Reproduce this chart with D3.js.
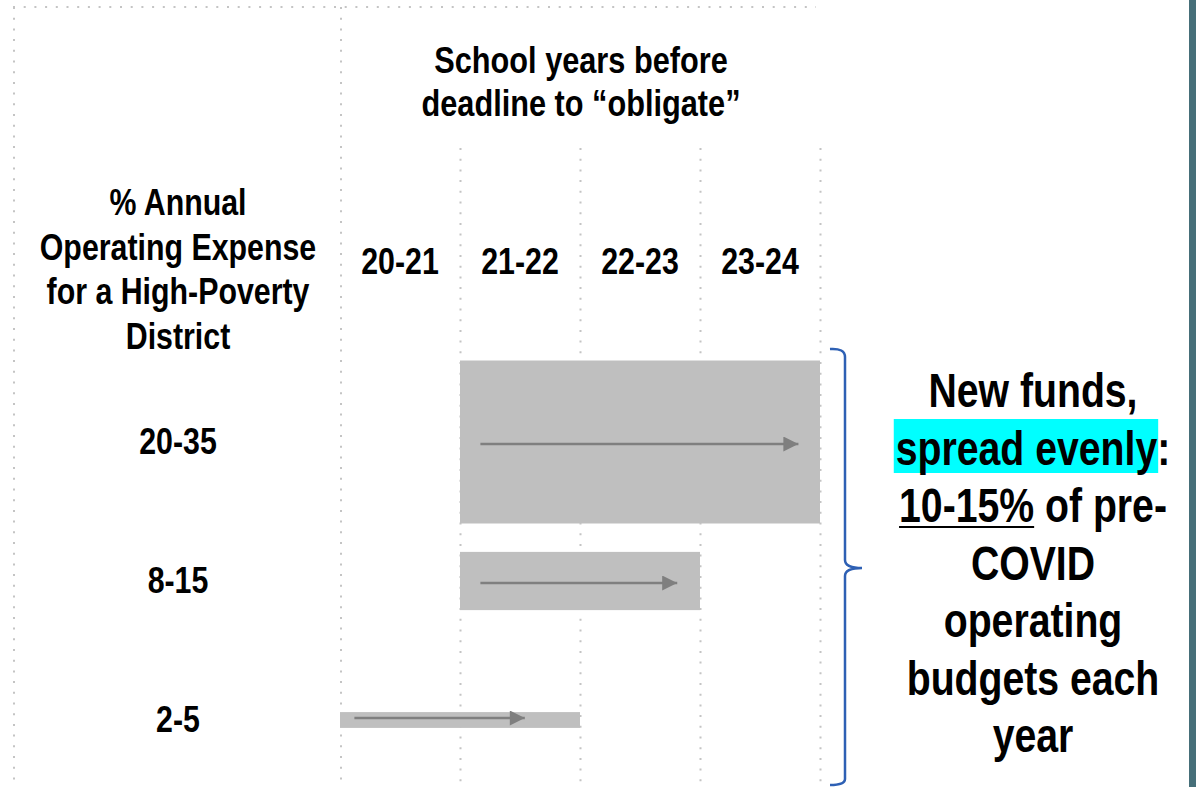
<!DOCTYPE html>
<html>
<head>
<meta charset="utf-8">
<script src="https://cdn.jsdelivr.net/npm/d3@7"></script>
<style>
  body { margin: 0; background: #fff; }
  text { font-family: "Liberation Sans Narrow", "Arial Narrow", "Liberation Sans", Arial, sans-serif; font-weight: bold; fill: #000; }
</style>
</head>
<body>
<div id="chart"></div>
<script>
const W = 1196, H = 787;

// school years (columns)
const years = ['20-21', '21-22', '22-23', '23-24'];
// funding size bands (rows)
const bands = ['20-35', '8-15', '2-5'];
// first and last school year each band of funds runs through
const barStart = ['21-22', '21-22', '20-21'];
const barEnd = ['23-24', '22-23', '21-22'];
// bar thickness (in % units)
const barSize = [35, 12.5, 3.4];
// arrow from / to, in school years from the start of 20-21
const arrowFrom = [1.17, 1.17, 0.12];
const arrowTo = [3.82, 2.81, 1.54];

const titleLines = ['School years before', 'deadline to \u201cobligate\u201d'];
const rowHeader = ['% Annual', 'Operating Expense', 'for a High-Poverty', 'District'];
const noteLines = ['New funds,', 'spread evenly:', '10-15% of pre-', 'COVID', 'operating', 'budgets each', 'year'];

// no narrow font installed, so squeeze the regular one
const squeeze = 0.82;

const svg = d3.select('#chart').append('svg')
  .attr('width', W)
  .attr('height', H);

// scales
const x = d3.scaleBand().domain(years).range([340, 820]);
const t = d3.scaleLinear().domain([0, 4]).range([340, 820]);
const y = d3.scalePoint().domain(bands).range([442, 720]);
const h = d3.scaleLinear().domain([0, 35]).range([0, 163]);

const dotted = { stroke: '#c4c4c4', width: 2, dash: '2 8.7' };

// outer dotted frame
svg.append('line')
  .attr('x1', 13).attr('x2', 816).attr('y1', 7).attr('y2', 7)
  .attr('stroke', dotted.stroke).attr('stroke-width', dotted.width)
  .attr('stroke-dasharray', dotted.dash);
svg.append('line')
  .attr('x1', 14).attr('x2', 14).attr('y1', 7).attr('y2', H)
  .attr('stroke', dotted.stroke).attr('stroke-width', dotted.width)
  .attr('stroke-dasharray', dotted.dash);
svg.append('line')
  .attr('x1', x(years[0]) + 1).attr('x2', x(years[0]) + 1).attr('y1', 7).attr('y2', H)
  .attr('stroke', dotted.stroke).attr('stroke-width', dotted.width)
  .attr('stroke-dasharray', dotted.dash);

// column separators
svg.selectAll('.col-line')
  .data(years.slice(1).concat(['end']))
  .enter().append('line')
  .attr('class', 'col-line')
  .attr('x1', (d, i) => x.bandwidth() * (i + 1) + x(years[0]) + 0.5)
  .attr('x2', (d, i) => x.bandwidth() * (i + 1) + x(years[0]) + 0.5)
  .attr('y1', 148).attr('y2', H)
  .attr('stroke', dotted.stroke).attr('stroke-width', dotted.width)
  .attr('stroke-dasharray', dotted.dash);

// centred, squeezed text block
const label = (cx, cy, size, k) => svg.append('g')
  .attr('transform', `translate(${cx}, ${cy}) scale(${k}, 1)`)
  .append('text')
  .attr('x', 0).attr('y', 0)
  .attr('text-anchor', 'middle')
  .attr('font-size', size + 'px');

// title
titleLines.forEach((line, i) => {
  label(581, 73 + i * 43, 37, 0.83).text(line);
});

// row header
rowHeader.forEach((line, i) => {
  label(178, 215 + i * 44.5, 37, squeeze).text(line);
});

// column labels
years.forEach(d => {
  label(x(d) + x.bandwidth() / 2, 274, 37, squeeze).text(d);
});

// row labels
bands.forEach(d => {
  label(178, y(d) + 12, 37, squeeze).text(d);
});

// bars
svg.selectAll('.bar')
  .data(bands)
  .enter().append('rect')
  .attr('class', 'bar')
  .attr('x', (d, i) => x(barStart[i]))
  .attr('y', (d, i) => y(d) - h(barSize[i]) / 2)
  .attr('width', (d, i) => x(barEnd[i]) + x.bandwidth() - x(barStart[i]))
  .attr('height', (d, i) => h(barSize[i]))
  .attr('fill', '#bfbfbf');

// arrows
svg.append('defs').append('marker')
  .attr('id', 'head')
  .attr('viewBox', '0 0 10 10')
  .attr('refX', 10).attr('refY', 5)
  .attr('markerUnits', 'userSpaceOnUse')
  .attr('markerWidth', 16).attr('markerHeight', 15)
  .attr('orient', 'auto')
  .append('path')
  .attr('d', 'M0,0 L10,5 L0,10 Z')
  .attr('fill', '#7f7f7f');

svg.selectAll('.arrow')
  .data(bands)
  .enter().append('line')
  .attr('class', 'arrow')
  .attr('x1', (d, i) => t(arrowFrom[i]))
  .attr('x2', (d, i) => t(arrowTo[i]))
  .attr('y1', (d, i) => i === 2 ? y(d) - 2 : y(d) + 2)
  .attr('y2', (d, i) => i === 2 ? y(d) - 2 : y(d) + 2)
  .attr('stroke', '#7f7f7f')
  .attr('stroke-width', 2.5)
  .attr('marker-end', 'url(#head)');

// curly bracket
const bTop = 349, bMid = 568, bBot = 785, bx = 845;
svg.append('path')
  .attr('d', `M830,${bTop} Q845,${bTop - 1} ${bx},${bTop + 8}
    L${bx},${bMid - 8} Q${bx},${bMid} 862,${bMid}
    Q${bx},${bMid} ${bx},${bMid + 8}
    L${bx},${bBot - 6} Q${bx},${bBot} 830,${bBot}`)
  .attr('fill', 'none')
  .attr('stroke', '#2e60b4')
  .attr('stroke-width', 2.5);

// right note
const cx = 1033, noteSize = 49, noteK = 0.8;
noteLines.forEach((line, i) => {
  const ty = 407 + i * 57.5;
  const g = svg.append('g')
    .attr('transform', `translate(${cx}, ${ty}) scale(${noteK}, 1)`);
  const txt = g.append('text')
    .attr('x', 0).attr('y', 0)
    .attr('text-anchor', 'middle')
    .attr('font-size', noteSize + 'px');
  if (i === 1) {
    txt.append('tspan').text('spread evenly');
    txt.append('tspan').text(':');
    const full = txt.node().getComputedTextLength();
    const part = txt.node().getSubStringLength(0, 13);
    g.insert('rect', 'text')
      .attr('x', -full / 2 - 2 / noteK)
      .attr('y', -45.5)
      .attr('width', part + 3 / noteK)
      .attr('height', 54)
      .attr('fill', '#00ffff');
  } else if (i === 2) {
    txt.text(line);
    const full = txt.node().getComputedTextLength();
    const part = txt.node().getSubStringLength(0, 6);
    g.append('line')
      .attr('x1', -full / 2).attr('x2', -full / 2 + part)
      .attr('y1', 5).attr('y2', 5)
      .attr('stroke', '#000').attr('stroke-width', 2.2);
  } else {
    txt.text(line);
  }
});

// dark edge on the right
svg.append('rect')
  .attr('x', 1189).attr('y', 0)
  .attr('width', 7).attr('height', H)
  .attr('fill', '#466f79');
</script>
</body>
</html>
